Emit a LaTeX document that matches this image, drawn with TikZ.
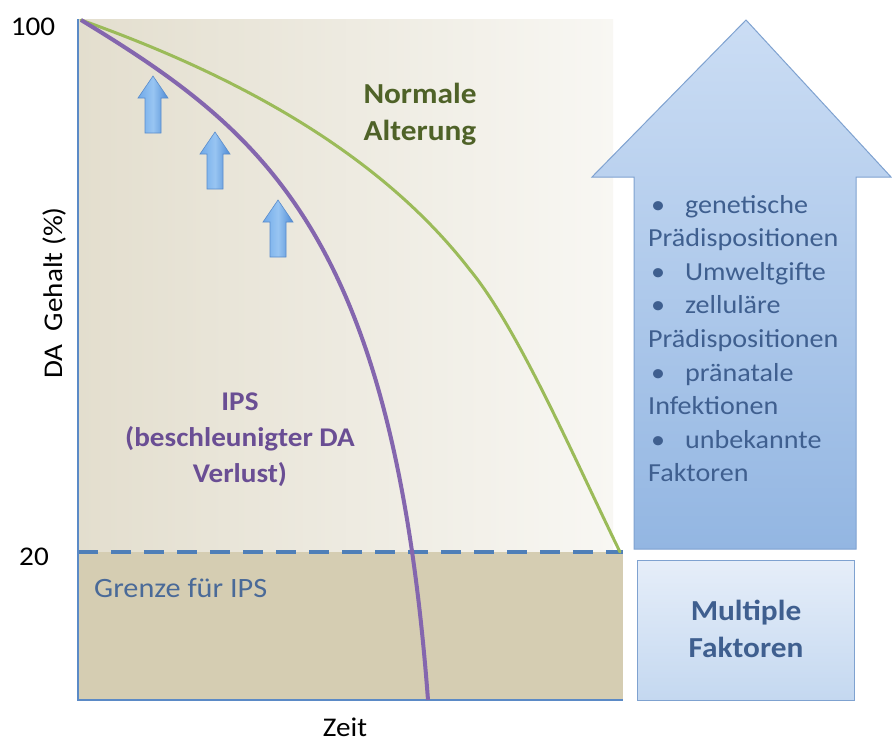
\documentclass[tikz,border=0pt]{standalone}
\usepackage{fontspec}
\setmainfont{Carlito}[FakeStretch=1.08]
\definecolor{axisblue}{HTML}{5B8AC6}
\definecolor{dashblue}{HTML}{4F7FB8}
\definecolor{tanband}{HTML}{D5CDB2}
\definecolor{bgleft}{HTML}{E3DECE}
\definecolor{bgright}{HTML}{F8F7F3}
\definecolor{curvegreen}{HTML}{9BBB59}
\definecolor{curvepurple}{HTML}{8466AE}
\definecolor{txtgreen}{HTML}{4F6228}
\definecolor{txtpurple}{HTML}{6A4E94}
\definecolor{txtblue}{HTML}{3F5F8F}
\definecolor{txtgrenze}{HTML}{4A6A98}
\definecolor{arrowtop}{HTML}{CBDDF4}
\definecolor{arrowbot}{HTML}{93B6E2}
\definecolor{arrowedge}{HTML}{7FA2D0}
\definecolor{boxtop}{HTML}{E6EEF9}
\definecolor{boxbot}{HTML}{C4D8F0}
\definecolor{smleft}{HTML}{6FA9E9}
\definecolor{smmid}{HTML}{98C5F2}
\definecolor{smright}{HTML}{4F8BD5}
\definecolor{smedge}{HTML}{5A8CCB}
\newcommand\fsz[2]{\fontsize{#1}{#2}\selectfont}
\newcommand\blt{\makebox[37pt][l]{\hspace{3pt}\textbullet}}
\tikzset{
  lbl/.style={inner sep=0pt, anchor=base},
  atext/.style={inner sep=0pt, anchor=base west, text=txtblue, font=\fsz{26}{32}},
  ipstext/.style={lbl, text=txtpurple, font=\fsz{27}{33}\bfseries},
  normtext/.style={lbl, text=txtgreen, font=\fsz{29}{36}\bfseries},
  boxtext/.style={lbl, text=txtblue, font=\fsz{29}{36}\bfseries},
  axislbl/.style={lbl, text=black, font=\fsz{27}{33}},
  smallarrow/.style={draw=smedge, line width=0.6pt, left color=smleft, right color=smright, middle color=smmid}
}
\begin{document}
\begin{tikzpicture}[x=1pt,y=-1pt]
\useasboundingbox (0,0) rectangle (892,744);
\fill[white] (0,0) rectangle (892,744);

% backgrounds
\shade[left color=bgleft, right color=bgright] (78,19) rectangle (613,552);
\fill[tanband] (78,552) rectangle (623,700);

% dashed threshold
\draw[dashblue, line width=4pt, dash pattern=on 20pt off 13pt] (78,552) -- (623,552);

% axes
\coordinate (origin) at (78,700);
\coordinate (ytop) at (78,19);
\coordinate (xend) at (623,700);
\draw[axisblue, line width=2.5pt] (ytop) -- (origin) -- (xend);

% curves
\coordinate (start) at (81,20);
\coordinate (gmid) at (470,270);
\coordinate (gend) at (620,552);
\coordinate (pend) at (428,700);
\draw[curvegreen, line width=3pt, line cap=round]
  (start) .. controls (250,80) and (385,160) .. (gmid)
          .. controls (518,328) and (575,460) .. (gend);
\draw[curvepurple, line width=4pt] (start) .. controls (265,132) and (393,235) .. (pend);

% small arrows
\foreach \cx/\ty [count=\i] in {153/76, 215/132, 278/200}{
  \path[smallarrow]
    (\cx,\ty) -- ++(15,22) -- ++(-7,0) -- ++(0,35) -- ++(-16,0) -- ++(0,-35) -- ++(-7,0) -- cycle;
}

% big arrow
\shade[top color=arrowtop, bottom color=arrowbot, draw=arrowedge, line width=1pt]
  (746,20) -- (891,177) -- (856,177) -- (856,549) -- (634,549) -- (634,177) -- (592,177) -- cycle;

% lower box
\node[draw=arrowedge, line width=1pt, top color=boxtop, bottom color=boxbot,
      minimum width=217pt, minimum height=140pt, inner sep=0pt] (box) at (745.5,630) {};
\node[boxtext] (mult1) at (746,620) {Multiple};
\node[boxtext] (mult2) at (746,657) {Faktoren};

% arrow text
\foreach \y/\t [count=\i] in {213/{\blt genetische}, 246.6/{Prädispositionen}, 280.2/{\blt Umweltgifte},
  313.8/{\blt zelluläre}, 347.4/{Prädispositionen}, 381/{\blt pränatale}, 414.6/{Infektionen},
  448.2/{\blt unbekannte}, 481.8/{Faktoren}}
  \node[atext] (line\i) at (648,\y) {\t};

% curve labels
\node[normtext] (norm1) at (420,103) {Normale};
\node[normtext] (norm2) at (420,140) {Alterung};
\node[ipstext] (ips1) at (240,410) {IPS};
\node[ipstext] (ips2) at (240,446) {(beschleunigter DA};
\node[ipstext] (ips3) at (240,482) {Verlust)};

\node[lbl, anchor=base west, text=txtgrenze, font=\fsz{28}{34}] (grenze) at (94,597) {Grenze für IPS};

% axis labels
\node[axislbl] (y100) at (33,35) {100};
\node[axislbl] (y20) at (34,565) {20};
\node[axislbl, rotate=90] (ylab) at (62,293) {DA\hspace{0.25em} Gehalt (\%)};
\node[axislbl] (xlab) at (345,736) {Zeit};
\end{tikzpicture}
\end{document}
